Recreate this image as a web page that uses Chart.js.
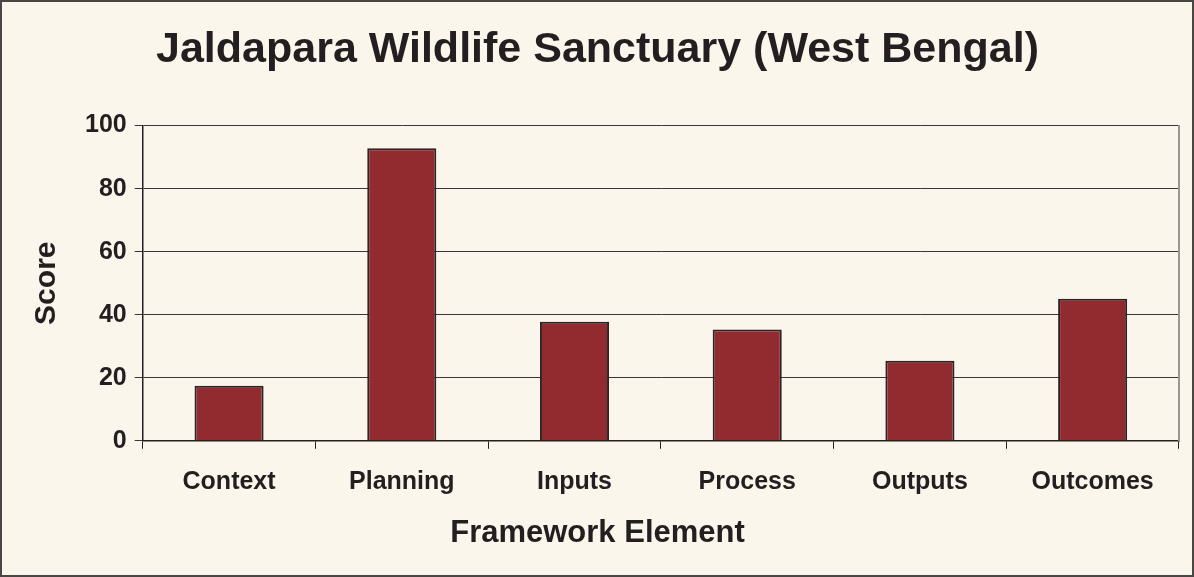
<!DOCTYPE html>
<html lang="en">
<head>
    <meta charset="UTF-8">
    <title>Jaldapara Wildlife Sanctuary (West Bengal)</title>
    <script src="https://cdn.jsdelivr.net/npm/chart.js"></script>
    <style>
        html, body {
            margin: 0;
            padding: 0;
            background: #faf6ec;
        }
        #wrap {
            width: 1194px;
            height: 577px;
            box-sizing: border-box;
            border: 2px solid #4a4646;
            background: #faf6ec;
        }
    </style>
</head>
<body>
    <div id="wrap">
        <canvas id="scoreChart" width="1190" height="573"></canvas>
    </div>

    <script>
        const categories = ['Context', 'Planning', 'Inputs', 'Process', 'Outputs', 'Outcomes'];
        const scores = [17.5, 92.8, 37.8, 35.3, 25.4, 45.1];
        const yTicks = [0, 20, 40, 60, 80, 100];

        const font = 'Liberation Sans, Arial, sans-serif';
        const ink = '#231f20';

        const ctx = document.getElementById('scoreChart').getContext('2d');

        new Chart(ctx, {
            type: 'bar',
            data: {
                labels: categories,
                datasets: [{
                    label: 'Score',
                    data: scores,
                    backgroundColor: '#922b30',
                    borderColor: '#2a2425',
                    borderWidth: 2,
                    barPercentage: 0.4,
                    categoryPercentage: 1.0
                }]
            },
            options: {
                responsive: false,
                animation: false,
                layout: { padding: { left: 6, right: 5, top: 0, bottom: 23 } },
                scales: {
                    x: {
                        offset: true,
                        grid: {
                            offset: true,
                            drawOnChartArea: false,
                            drawTicks: true,
                            tickLength: 8,
                            color: ink
                        },
                        border: { color: ink, width: 1.5 },
                        ticks: {
                            color: ink,
                            padding: 18,
                            font: { family: font, size: 25, weight: 'bold' }
                        }
                    },
                    y: {
                        min: 0,
                        max: 100,
                        afterBuildTicks: (axis) => {
                            axis.ticks = yTicks.map(v => ({ value: v }));
                        },
                        grid: {
                            color: '#3a3536',
                            lineWidth: 1,
                            tickLength: 8
                        },
                        border: { color: ink, width: 1.5 },
                        ticks: {
                            color: ink,
                            padding: 8,
                            font: { family: font, size: 25, weight: 'bold' }
                        },
                        title: {
                            display: true,
                            text: 'Score',
                            color: ink,
                            padding: { top: 21, bottom: 12 },
                            font: { family: font, size: 30, weight: 'bold' }
                        }
                    },
                    yRight: {
                        position: 'right',
                        min: 0,
                        max: 100,
                        grid: { display: false },
                        ticks: { display: false },
                        border: { color: '#9a9696', width: 2 }
                    }
                },
                plugins: {
                    legend: { display: false },
                    tooltip: { enabled: false },
                    title: {
                        display: true,
                        text: 'Jaldapara Wildlife Sanctuary (West Bengal)',
                        color: ink,
                        padding: { top: 22, bottom: 50 },
                        font: { family: font, size: 43, weight: 'bold' }
                    },
                    // x axis title, centred on the whole figure like the original
                    subtitle: {
                        display: true,
                        position: 'bottom',
                        text: 'Framework Element',
                        color: ink,
                        padding: { top: 0, bottom: 0 },
                        font: { family: font, size: 31, weight: 'bold' }
                    }
                }
            }
        });
    </script>
</body>
</html>
